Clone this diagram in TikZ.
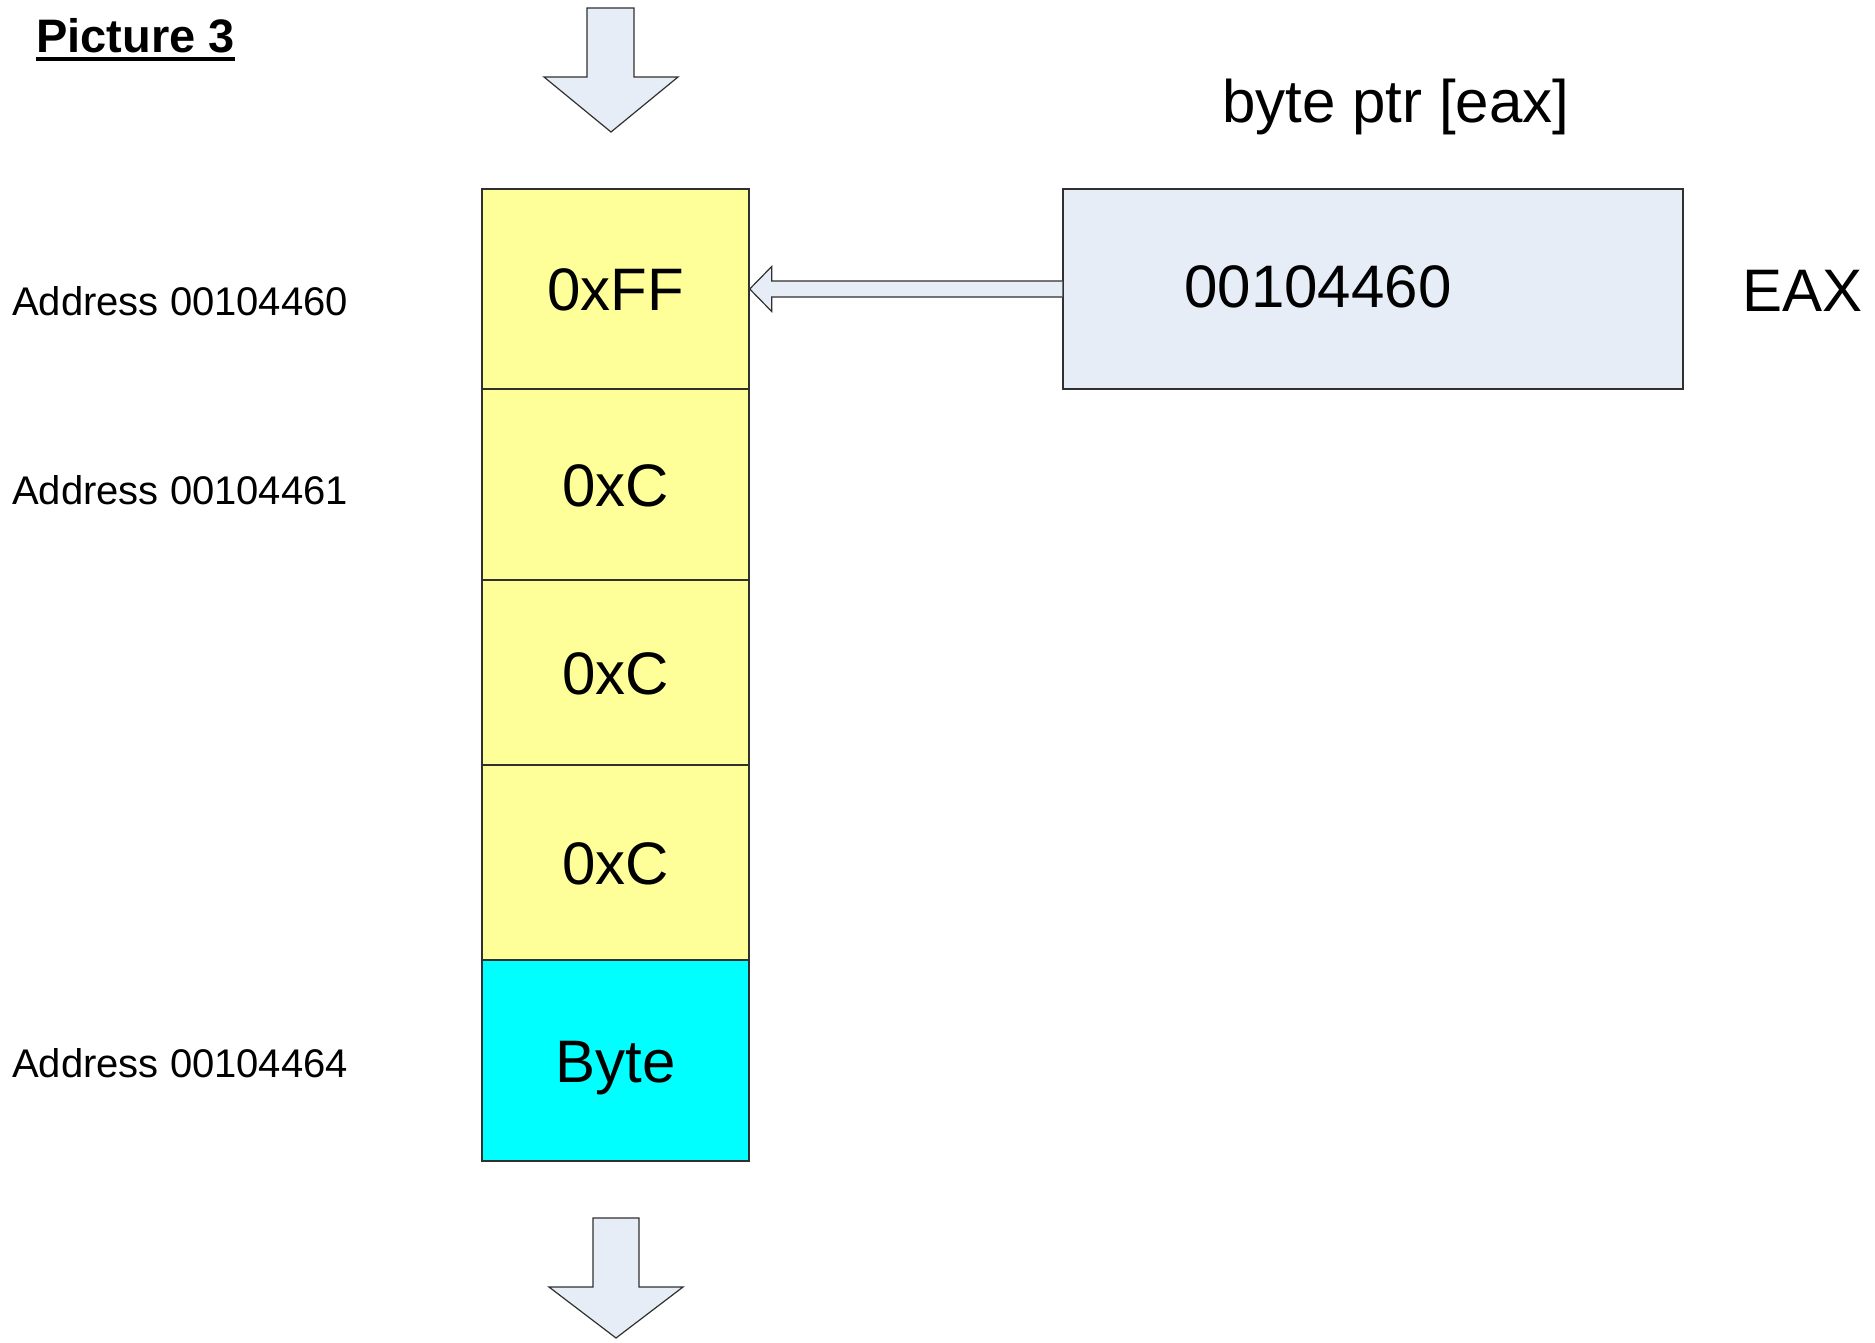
\documentclass[tikz,border=0pt]{standalone}
\usepackage{fontspec}
\setmainfont{Liberation Sans}
\usetikzlibrary{calc}
\definecolor{cellyellow}{HTML}{FFFF99}
\definecolor{cellcyan}{HTML}{00FFFF}
\definecolor{paleblue}{HTML}{E7EDF7}
\definecolor{edgegray}{HTML}{303030}
\tikzset{
  memcell/.style={draw=edgegray, line width=1.4pt, fill=cellyellow, minimum width=267pt,
    inner sep=0pt, text height=43pt, text depth=0pt, font=\fontsize{60}{72}\selectfont},
  regbox/.style={draw=edgegray, line width=1.4pt, fill=paleblue, minimum width=620pt,
    minimum height=200pt, inner sep=0pt},
  bigtext/.style={inner sep=0pt, font=\fontsize{60}{72}\selectfont},
  addrtext/.style={inner sep=0pt, anchor=base west, font=\fontsize{40}{48}\selectfont},
  blockarrow/.style={draw=edgegray, line width=1.2pt, fill=paleblue, line join=miter},
}
\begin{document}
\begin{tikzpicture}[x=1pt,y=-1pt]
\useasboundingbox (0,0) rectangle (1875,1343);

% heading
\node[inner sep=0pt, anchor=base west, font=\bfseries\fontsize{47}{56}\selectfont] (title) at (36,53) {Picture 3};
\draw[line width=4pt] ([yshift=-6pt]title.base west) -- ([yshift=-6pt]title.base east);

% memory column
\node[memcell, minimum height=200pt] (c0) at (615.5,289) {0xFF};
\node[memcell, minimum height=191pt] (c1) at (615.5,484.5) {0xC};
\node[memcell, minimum height=185pt] (c2) at (615.5,672.5) {0xC};
\node[memcell, minimum height=195pt] (c3) at (615.5,862.5) {0xC};
\node[memcell, minimum height=201pt, fill=cellcyan] (c4) at (615.5,1060.5) {Byte};

% address labels
\node[addrtext] (a0) at (12,315) {Address 00104460};
\node[addrtext] (a1) at (12,504) {Address 00104461};
\node[addrtext] (a4) at (12,1077) {Address 00104464};

% register
\node[regbox] (eax) at (1373,289) {};
\node[bigtext, anchor=base] (eaxval) at (1318,308) {00104460};
\node[bigtext, anchor=base west] (eaxname) at (1742,311) {EAX};
\node[bigtext, anchor=base] (ptr) at (1396,123) {byte ptr [eax]};

% pointer from the register to the first cell
\draw[blockarrow]
  ($(eax.west)+(0,-8)$) -- ($(c0.east)+(22,-8)$) -- ($(c0.east)+(22,-22.5)$)
  -- (c0.east) -- ($(c0.east)+(22,22.5)$) -- ($(c0.east)+(22,8)$)
  -- ($(eax.west)+(0,8)$);

% direction arrows above and below the column
\draw[blockarrow] (587,8) -- (634,8) -- (634,77) -- (678,77) -- (611,132)
  -- (544,77) -- (587,77) -- cycle;
\draw[blockarrow] (593,1218) -- (639,1218) -- (639,1287) -- (683,1287) -- (616,1338)
  -- (549,1287) -- (593,1287) -- cycle;
\end{tikzpicture}
\end{document}
